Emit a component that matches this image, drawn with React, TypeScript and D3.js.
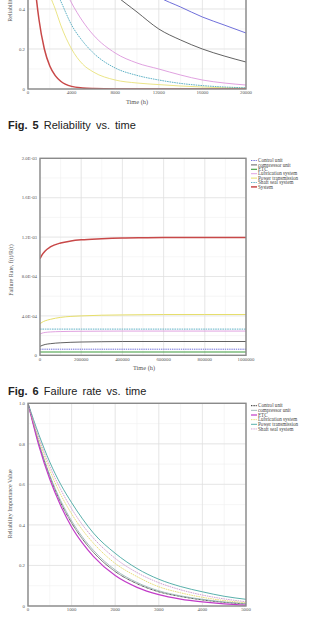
import * as d3 from 'd3';

// ---- Fig. 5 : reliability vs time (upper part is cut off in the page) ----
const relTimes = [0, 500, 1000, 1500, 2000, 2500, 3000, 4000, 5000, 6000, 8000, 10000, 12000, 14000, 16000, 18000, 20000];
const relControl = [1, 0.985, 0.96, 0.94, 0.91, 0.89, 0.86, 0.82, 0.77, 0.72, 0.62, 0.54, 0.46, 0.41, 0.36, 0.32, 0.28];
const relCompressor = [1, 0.97, 0.93, 0.89, 0.85, 0.81, 0.77, 0.70, 0.63, 0.57, 0.47, 0.385, 0.30, 0.245, 0.20, 0.165, 0.135];
const relETC = [1, 0.99, 0.97, 0.955, 0.94, 0.93, 0.91, 0.89, 0.86, 0.84, 0.79, 0.74, 0.70, 0.66, 0.62, 0.58, 0.55];
const relLube = [1, 0.91, 0.82, 0.74, 0.67, 0.60, 0.54, 0.43, 0.34, 0.27, 0.18, 0.13, 0.10, 0.07, 0.045, 0.03, 0.02];
const relPower = [1, 0.82, 0.68, 0.56, 0.47, 0.40, 0.32, 0.20, 0.125, 0.085, 0.045, 0.03, 0.022, 0.015, 0.01, 0.006, 0.004];
const relShaft = [1, 0.87, 0.76, 0.66, 0.58, 0.50, 0.44, 0.32, 0.24, 0.18, 0.105, 0.068, 0.045, 0.028, 0.017, 0.01, 0.006];
const relSystem = [1, 0.60, 0.35, 0.20, 0.115, 0.067, 0.039, 0.013, 0.005, 0.002, 0, 0, 0, 0, 0, 0, 0];

// ---- Fig. 6 : failure rate vs time ----
const frTimes = [0, 10000, 25000, 50000, 100000, 150000, 200000, 300000, 400000, 500000, 600000, 800000, 1000000];
const frControl = [6.2e-5, 6.2e-5, 6.2e-5, 6.2e-5, 6.2e-5, 6.2e-5, 6.2e-5, 6.2e-5, 6.2e-5, 6.2e-5, 6.2e-5, 6.2e-5, 6.2e-5];
const frCompressor = [9.0e-5, 1.0e-4, 1.1e-4, 1.18e-4, 1.27e-4, 1.32e-4, 1.35e-4, 1.38e-4, 1.4e-4, 1.4e-4, 1.4e-4, 1.4e-4, 1.4e-4];
const frETC = [3.3e-5, 3.3e-5, 3.3e-5, 3.3e-5, 3.3e-5, 3.3e-5, 3.3e-5, 3.3e-5, 3.3e-5, 3.3e-5, 3.3e-5, 3.3e-5, 3.3e-5];
const frLube = [2.15e-4, 2.25e-4, 2.32e-4, 2.37e-4, 2.41e-4, 2.43e-4, 2.44e-4, 2.45e-4, 2.46e-4, 2.46e-4, 2.46e-4, 2.46e-4, 2.46e-4];
const frPower = [3.2e-4, 3.35e-4, 3.5e-4, 3.65e-4, 3.85e-4, 3.95e-4, 4.0e-4, 4.07e-4, 4.1e-4, 4.12e-4, 4.14e-4, 4.14e-4, 4.14e-4];
const frShaft = [2.66e-4, 2.66e-4, 2.66e-4, 2.66e-4, 2.66e-4, 2.66e-4, 2.66e-4, 2.66e-4, 2.66e-4, 2.66e-4, 2.66e-4, 2.66e-4, 2.66e-4];
const frSystem = [9.8e-4, 1.02e-3, 1.06e-3, 1.10e-3, 1.14e-3, 1.16e-3, 1.172e-3, 1.183e-3, 1.19e-3, 1.193e-3, 1.195e-3, 1.195e-3, 1.195e-3];

// ---- third chart : reliability importance ----
const riTimes = [0, 250, 500, 750, 1000, 1250, 1500, 2000, 2500, 3000, 3500, 4000, 4500, 5000];
const riControl = [1, 0.80, 0.64, 0.51, 0.41, 0.33, 0.265, 0.17, 0.11, 0.07, 0.047, 0.03, 0.018, 0.01];
const riCompressor = [1, 0.805, 0.645, 0.52, 0.42, 0.34, 0.275, 0.178, 0.116, 0.075, 0.05, 0.033, 0.02, 0.012];
const riETC = [1, 0.79, 0.625, 0.495, 0.39, 0.31, 0.245, 0.15, 0.092, 0.056, 0.034, 0.02, 0.01, 0.004];
const riLube = [1, 0.82, 0.67, 0.55, 0.455, 0.375, 0.31, 0.21, 0.145, 0.095, 0.065, 0.043, 0.027, 0.016];
const riPower = [1, 0.845, 0.71, 0.60, 0.51, 0.43, 0.36, 0.26, 0.185, 0.132, 0.096, 0.07, 0.048, 0.033];
const riShaft = [1, 0.83, 0.69, 0.575, 0.48, 0.40, 0.335, 0.235, 0.165, 0.115, 0.08, 0.054, 0.035, 0.021];

const names = ['Control unit', 'compressor unit', 'ETC', 'Lubrication system', 'Power transmission', 'Shaft seal system', 'System'];

const relTicksX = [0, 4000, 8000, 12000, 16000, 20000];
const relTicksY = [0, 0.2, 0.4, 0.6, 0.8, 1.0];
const frTicksX = [0, 200000, 400000, 600000, 800000, 1000000];
const frTicksY = [0, 4e-4, 8e-4, 1.2e-3, 1.6e-3, 2e-3];
const frLabelsY = ['0', '4.0E-04', '8.0E-04', '1.2E-03', '1.6E-03', '2.0E-03'];
const riTicksX = [0, 1000, 2000, 3000, 4000, 5000];
const riTicksY = [0, 0.2, 0.4, 0.6, 0.8, 1.0];

type Series = { name: string; values: number[]; color: string; width?: number; dash?: string };

const SERIF = '"Liberation Serif", "DejaVu Serif", serif';
const SANS = '"Liberation Sans", Arial, sans-serif';

function Panel(props: {
  id: string;
  left: number; right: number; top: number; bottom: number;
  xMax: number; yMax: number;
  times: number[]; series: Series[];
  xTicks: number[]; yTicks: number[]; yLabels: string[];
  xMinor: number; yMinor: number;
  xTitle?: string; xTitleX?: number;
  yTitle: string; yTitleX: number; yTitleY: number;
  legendY?: number; legendStep?: number; legend: boolean;
}) {
  const p = props;
  const x = d3.scaleLinear().domain([0, p.xMax]).range([p.left, p.right]);
  const y = d3.scaleLinear().domain([0, p.yMax]).range([p.bottom, p.top]);
  const line = d3.line<number>()
    .x((_, i) => x(p.times[i]))
    .y(d => y(d))
    .curve(d3.curveMonotoneX);
  const minorX = d3.range(0, p.xMax + 1e-9, p.xMinor);
  const minorY = d3.range(0, p.yMax + 1e-12, p.yMinor);
  // only label the ticks that fall inside the page
  const yTickIdx = p.yTicks.map((v, i) => i).filter(i => y(p.yTicks[i]) > 3);

  return (
    <g>
      <defs>
        <clipPath id={p.id}>
          <rect x={p.left} y={p.top} width={p.right - p.left} height={p.bottom - p.top} />
        </clipPath>
      </defs>
      {minorX.map((v, i) => (
        <line key={'mx' + i} x1={x(v)} x2={x(v)} y1={p.top} y2={p.bottom} stroke="#f0f0f0" strokeWidth={0.6} />
      ))}
      {minorY.map((v, i) => (
        <line key={'my' + i} x1={p.left} x2={p.right} y1={y(v)} y2={y(v)} stroke="#f0f0f0" strokeWidth={0.6} />
      ))}
      {p.xTicks.map(v => (
        <line key={'gx' + v} x1={x(v)} x2={x(v)} y1={p.top} y2={p.bottom} stroke="#dddddd" strokeWidth={0.6} />
      ))}
      {p.yTicks.map(v => (
        <line key={'gy' + v} x1={p.left} x2={p.right} y1={y(v)} y2={y(v)} stroke="#dddddd" strokeWidth={0.6} />
      ))}
      <g clipPath={`url(#${p.id})`}>
        {p.series.map(s => (
          <path key={s.name} d={line(s.values) || ''} fill="none" stroke={s.color}
            strokeWidth={s.width ?? 0.8} strokeDasharray={s.dash} />
        ))}
      </g>
      <rect x={p.left} y={p.top} width={p.right - p.left} height={p.bottom - p.top}
        fill="none" stroke="#8a8a8a" strokeWidth={1.4} />
      <g fontFamily={SERIF} fontSize={4.8} fill="#555">
        {p.xTicks.map(v => (
          <text key={'tx' + v} x={x(v)} y={p.bottom + 5.4} textAnchor="middle">{v}</text>
        ))}
        {yTickIdx.map(i => (
          <text key={'ty' + i} x={p.left - 3} y={y(p.yTicks[i]) + 1.7} textAnchor="end">{p.yLabels[i]}</text>
        ))}
      </g>
      {p.xTitle && (
        <text x={p.xTitleX} y={p.bottom + 14.5} textAnchor="middle" fontFamily={SERIF} fontSize={6.3} fill="#555">
          {p.xTitle}
        </text>
      )}
      <text transform={`translate(${p.yTitleX},${p.yTitleY}) rotate(-90)`} textAnchor="middle"
        fontFamily={SERIF} fontSize={6} fill="#555">{p.yTitle}</text>
      {p.legend && p.series.map((s, i) => {
        const ly = (p.legendY ?? 0) + i * (p.legendStep ?? 4.4);
        return (
          <g key={'lg' + s.name}>
            <line x1={p.right + 5} x2={p.right + 11} y1={ly} y2={ly} stroke={s.color}
              strokeWidth={Math.max(0.8, s.width ?? 0.8)} strokeDasharray={s.dash ? '1,0.6' : undefined} />
            <text x={p.right + 12} y={ly + 1.6} fontFamily={SERIF} fontSize={5.1} fill="#444">{s.name}</text>
          </g>
        );
      })}
    </g>
  );
}

const fmt1 = (v: number) => (v === 0 ? '0' : v.toFixed(1));

export default function App() {
  const relSeries: Series[] = [
    { name: names[0], values: relControl, color: '#4a4ad0' },
    { name: names[1], values: relCompressor, color: '#3a3a3a' },
    { name: names[2], values: relETC, color: '#3a9a3a' },
    { name: names[3], values: relLube, color: '#d88ad8' },
    { name: names[4], values: relPower, color: '#e6de6a' },
    { name: names[5], values: relShaft, color: '#3aa0b8', dash: '1.6,0.8' },
    { name: names[6], values: relSystem, color: '#c84848', width: 1.5 },
  ];
  const frSeries: Series[] = [
    { name: names[0], values: frControl, color: '#4a4ad0', dash: '1.4,0.8' },
    { name: names[1], values: frCompressor, color: '#3a3a3a' },
    { name: names[2], values: frETC, color: '#3a9a3a', width: 1.1 },
    { name: names[3], values: frLube, color: '#d88ad8' },
    { name: names[4], values: frPower, color: '#e6de6a', width: 1 },
    { name: names[5], values: frShaft, color: '#3aa0b8', dash: '1.6,0.8' },
    { name: names[6], values: frSystem, color: '#c84848', width: 1.5 },
  ];
  const riSeries: Series[] = [
    { name: names[0], values: riControl, color: '#222222', dash: '0.8,0.6', width: 1 },
    { name: names[1], values: riCompressor, color: '#8aaeaa' },
    { name: names[2], values: riETC, color: '#c23cc8', width: 1.2 },
    { name: names[3], values: riLube, color: '#e2d458', dash: '1.6,0.8' },
    { name: names[4], values: riPower, color: '#2e9c96' },
    { name: names[5], values: riShaft, color: '#c88ac8', dash: '1.6,0.8' },
  ];

  return (
    <svg width={315} height={617} style={{ position: 'absolute', left: 0, top: 0, background: '#fff' }}>
      <rect width={315} height={617} fill="#fff" />
      <Panel id="c1" left={28} right={246} top={-111} bottom={89} xMax={20000} yMax={1}
        times={relTimes} series={relSeries}
        xTicks={relTicksX} yTicks={relTicksY} yLabels={relTicksY.map(fmt1)}
        xMinor={2000} yMinor={0.1}
        xTitle="Time (h)" xTitleX={137}
        yTitle="Reliability" yTitleX={12} yTitleY={9} legend={false} />
      <text x={8} y={128.5} fontFamily={SANS} fontSize={11} fill="#222" wordSpacing={2}>
        <tspan fontWeight="bold">Fig. 5</tspan> Reliability vs. time
      </text>

      <Panel id="c2" left={40} right={246} top={158.3} bottom={355.3} xMax={1000000} yMax={2e-3}
        times={frTimes} series={frSeries}
        xTicks={frTicksX} yTicks={frTicksY} yLabels={frLabelsY}
        xMinor={100000} yMinor={2e-4}
        xTitle="Time (h)" xTitleX={144}
        yTitle="Failure Rate, f(t)/R(t)" yTitleX={13} yTitleY={270} legend legendY={160.5} legendStep={4.4} />
      <text x={8} y={395} fontFamily={SANS} fontSize={11} fill="#222" wordSpacing={2}>
        <tspan fontWeight="bold">Fig. 6</tspan> Failure rate vs. time
      </text>

      <Panel id="c3" left={28} right={246} top={403.3} bottom={606} xMax={5000} yMax={1}
        times={riTimes} series={riSeries}
        xTicks={riTicksX} yTicks={riTicksY} yLabels={riTicksY.map(fmt1)}
        xMinor={500} yMinor={0.1}
        yTitle="Reliability Importance Value" yTitleX={12} yTitleY={504} legend legendY={405.7} legendStep={4.65} />
    </svg>
  );
}
